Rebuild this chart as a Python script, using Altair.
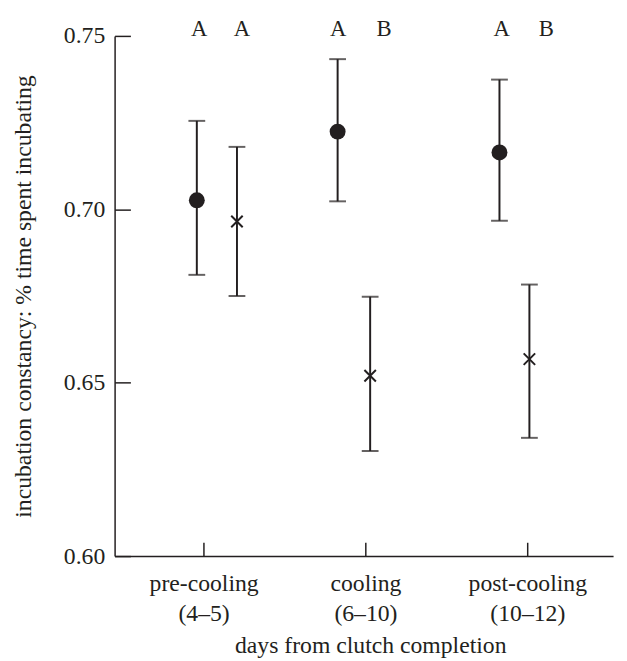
import altair as alt
import pandas as pd

# categories (x positions 1,2,3 on a continuous axis)
phases = ["pre-cooling", "cooling", "post-cooling"]
phase_days = ["(4–5)", "(6–10)", "(10–12)"]
phase_pos = [1, 2, 3]

# filled circles (control group): x position, mean, lower and upper error
circle_x = [0.958, 1.828, 2.828]
circle_mean = [0.7026, 0.7224, 0.7164]
circle_lo = [0.6811, 0.7023, 0.6967]
circle_hi = [0.7255, 0.7433, 0.7374]

# crosses (cooled group)
cross_x = [1.206, 2.029, 3.013]
cross_mean = [0.6965, 0.6520, 0.6568]
cross_lo = [0.6750, 0.6303, 0.6341]
cross_hi = [0.7180, 0.6748, 0.6783]

# significance letters
letters = ["A", "A", "A", "B", "A", "B"]
letter_x = [0.973, 1.237, 1.832, 2.115, 2.842, 3.117]
letter_y = [0.75] * 6

y_ticks = [0.60, 0.65, 0.70, 0.75]

INK = "#231f20"
FONT = "Liberation Serif"

circles = pd.DataFrame({"x": circle_x, "m": circle_mean, "lo": circle_lo, "hi": circle_hi})
crosses = pd.DataFrame({"x": cross_x, "m": cross_mean, "lo": cross_lo, "hi": cross_hi})
bars = pd.concat([circles, crosses], ignore_index=True)
lets = pd.DataFrame({"x": letter_x, "y": letter_y, "t": letters})

label_expr = " : ".join(
    f"datum.value == {p} ? ['{a}', '{b}']" for p, a, b in zip(phase_pos, phases, phase_days)
) + " : ''"

xscale = alt.Scale(domain=[0.45, 3.53], nice=False, zero=False)
yscale = alt.Scale(domain=[0.60, 0.75], nice=False, zero=False)

xaxis = alt.Axis(
    title="days from clutch completion",
    values=phase_pos,
    labelExpr=label_expr,
    tickSize=alt.ExprRef("-14"),
    labelPadding=30,
    labelLineHeight=30,
    grid=False,
    titlePadding=9,
    titleX=259,
)
yaxis = alt.Axis(
    title="incubation constancy: % time spent incubating",
    values=y_ticks,
    format=".2f",
    tickSize=alt.ExprRef("-16"),
    labelPadding=26,
    grid=False,
    titlePadding=28,
)

base_x = alt.X("x:Q", scale=xscale, axis=xaxis)

rules = alt.Chart(bars).mark_rule(color=INK, strokeWidth=2).encode(
    x=base_x,
    y=alt.Y("lo:Q", scale=yscale, axis=yaxis),
    y2="hi:Q",
)
cap_lo = alt.Chart(bars).mark_tick(color=INK, thickness=2, size=17, orient="horizontal").encode(
    x=alt.X("x:Q", scale=xscale), y=alt.Y("lo:Q", scale=yscale)
)
cap_hi = alt.Chart(bars).mark_tick(color=INK, thickness=2, size=17, orient="horizontal").encode(
    x=alt.X("x:Q", scale=xscale), y=alt.Y("hi:Q", scale=yscale)
)
dots = alt.Chart(circles).mark_point(
    shape="circle", filled=True, size=260, color=INK, opacity=1
).encode(x=alt.X("x:Q", scale=xscale), y=alt.Y("m:Q", scale=yscale))
xs = alt.Chart(crosses).mark_point(
    shape="M-1,-1L1,1M-1,1L1,-1", filled=False, size=135, color=INK, strokeWidth=2, opacity=1
).encode(x=alt.X("x:Q", scale=xscale), y=alt.Y("m:Q", scale=yscale))
txt = alt.Chart(lets).mark_text(
    font=FONT, fontSize=23, color=INK, baseline="alphabetic", align="center"
).encode(x=alt.X("x:Q", scale=xscale), y=alt.Y("y:Q", scale=yscale), text="t:N")

chart = (
    alt.layer(rules, cap_lo, cap_hi, dots, xs, txt)
    .properties(
        width=505,
        height=527,
        autosize=alt.AutoSizeParams(type="none"),
        padding={"left": 108, "top": 24, "right": 6, "bottom": 102},
    )
    .configure_view(stroke=None)
    .configure_axis(
        labelFont=FONT,
        titleFont=FONT,
        labelFontSize=24,
        titleFontSize=24,
        titleFontWeight="normal",
        labelColor=INK,
        titleColor=INK,
        domainColor=INK,
        tickColor=INK,
        domainWidth=1.5,
        tickWidth=1.5,
    )
)

chart.save("out.html", embed_options={"renderer": "svg", "actions": False})
